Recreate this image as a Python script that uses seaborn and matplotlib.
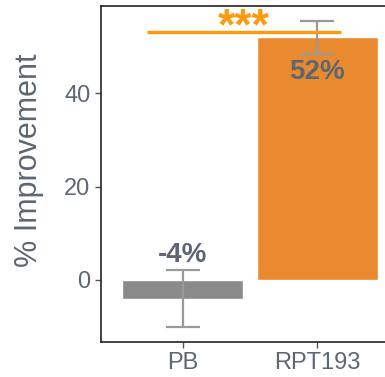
import matplotlib
matplotlib.use("Agg")
import matplotlib.pyplot as plt
import seaborn as sns
import pandas as pd

# Summary values per treatment
groups = ["PB", "RPT193"]
improvement = [-4.0, 52.0]
error = [6.1, 3.5]
labels = ["-4%", "52%"]
bar_colors = ["#8a8a8a", "#ea8a2f"]
yticks = [0, 20, 40]
significance = "***"
sig_height = 53.2

sns.set_theme(style="white")
plt.rcParams["font.family"] = ["Liberation Sans", "DejaVu Sans"]

text_color = "#5c6773"
df = pd.DataFrame({"group": groups, "improvement": improvement})

fig = plt.figure(figsize=(3.85, 3.77), dpi=100)
ax = fig.add_axes([0.2623, 0.0928, 0.773, 0.891])

sns.barplot(data=df, x="group", y="improvement", hue="group",
            palette=bar_colors, errorbar=None, width=0.9,
            legend=False, ax=ax, saturation=1)

ax.errorbar(range(len(groups)), improvement, yerr=error, fmt="none",
            ecolor="#9a9a9a", elinewidth=1.6, capsize=12, capthick=1.6,
            zorder=3)

# Value labels: above the error bar for losses, below it for gains
for i, (v, e, lab) in enumerate(zip(improvement, error, labels)):
    if v < 0:
        y = v + e + 3.3
    else:
        y = v - e - 4.0
    ax.text(i, y, lab, ha="center", va="center", fontsize=20,
            fontweight="bold", color=text_color)

# Significance bracket
ax.plot([-0.264, 1.178], [sig_height, sig_height], color="#ff9a0a",
        lw=2.4, solid_capstyle="butt", zorder=4)
ax.text(0.457, sig_height - 1.7, significance, ha="center", va="baseline",
        fontsize=32, fontweight="bold", color="#ff9a0a", zorder=5)

ax.set_xlim(-0.606, 1.606)
ax.set_ylim(-13.3, 58.7)
ax.set_yticks(yticks)
ax.set_xlabel("")
ax.set_ylabel("% Improvement", fontsize=22, color=text_color)
ax.yaxis.set_label_coords(-0.19, 0.542)
ax.tick_params(axis="both", labelsize=17, labelcolor=text_color,
               colors="#555555", length=4, width=1, left=True, bottom=True)
for s in ax.spines.values():
    s.set_color("#222222")
    s.set_linewidth(1.2)

fig.savefig("out.png", dpi=100)
